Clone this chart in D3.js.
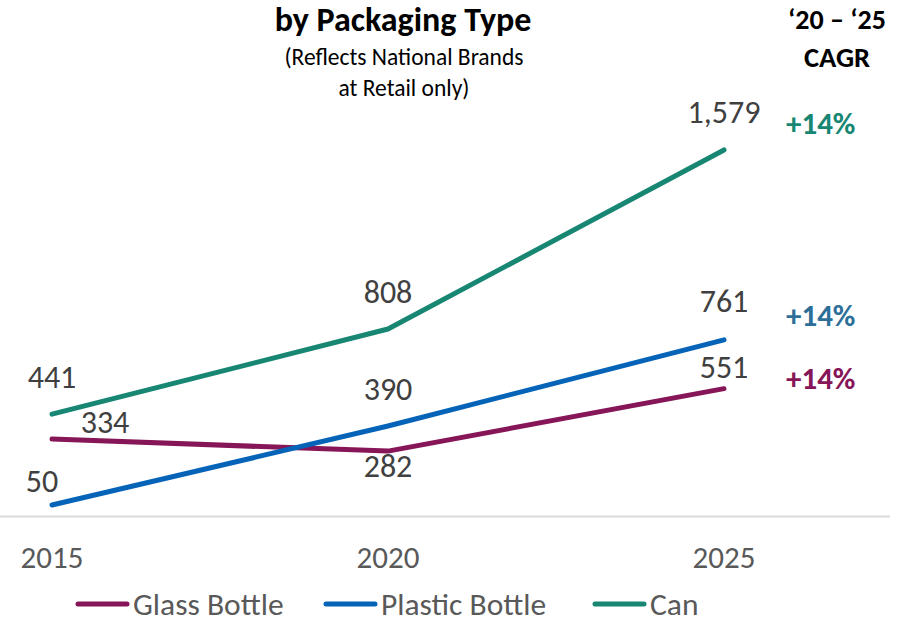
<!DOCTYPE html>
<html>
<head>
<meta charset="utf-8">
<script src="https://cdn.jsdelivr.net/npm/d3@7"></script>
<style>
  body { margin: 0; background: #fff; }
  text { font-family: Carlito, 'Liberation Sans Narrow', 'Open Sans', sans-serif; }
</style>
</head>
<body>
<script>
// données
const YEARS = ['2015', '2020', '2025']
const GLASS = [334, 282, 551]
const PLASTIC = [50, 390, 761]
const CAN = [441, 808, 1579]
const SERIES_NAMES = ['Glass Bottle', 'Plastic Bottle', 'Can']
const CAGR = ['+14%', '+14%', '+14%']

const WIDTH = 902
const HEIGHT = 619

const COLORS = ['#861657', '#0563b8', '#178673']
const CAGR_COLORS = ['#861657', '#2e6f9a', '#178673']

const series = [GLASS, PLASTIC, CAN].map((v, i) => ({ name: SERIES_NAMES[i], values: v, color: COLORS[i] }))

const svg = d3.select('body').append('svg')
  .attr('width', WIDTH)
  .attr('height', HEIGHT)

const x = d3.scalePoint().domain(YEARS).range([52, 724])
const y = d3.scaleLinear().domain([0, 2000]).range([516.6, 52.2])

// ligne de base
svg.append('line')
  .attr('x1', 0).attr('x2', 890)
  .attr('y1', y(0)).attr('y2', y(0))
  .attr('stroke', '#d9d9d9').attr('stroke-width', 2)

// titres
svg.append('text').attr('x', 403).attr('y', 31)
  .attr('text-anchor', 'middle').attr('font-size', 34).attr('font-weight', 'bold')
  .attr('fill', '#000').text('by Packaging Type')
svg.append('text').attr('x', 404).attr('y', 65)
  .attr('text-anchor', 'middle').attr('font-size', 23.5).attr('fill', '#000')
  .text('(Reflects National Brands')
svg.append('text').attr('x', 404).attr('y', 96)
  .attr('text-anchor', 'middle').attr('font-size', 23.5).attr('fill', '#000')
  .text('at Retail only)')
svg.append('text').attr('x', 837).attr('y', 29)
  .attr('text-anchor', 'middle').attr('font-size', 28).attr('font-weight', 'bold')
  .text('\u201820 \u2013 \u201825')
svg.append('text').attr('x', 837).attr('y', 67)
  .attr('text-anchor', 'middle').attr('font-size', 28.5).attr('font-weight', 'bold')
  .text('CAGR')

// lignes
const line = d3.line().x((d, i) => x(YEARS[i])).y(d => y(d))
svg.selectAll('path.serie')
  .data(series)
  .enter()
  .append('path')
  .attr('class', 'serie')
  .attr('d', d => line(d.values))
  .attr('fill', 'none')
  .attr('stroke', d => d.color)
  .attr('stroke-width', 5)
  .attr('stroke-linecap', 'round')
  .attr('stroke-linejoin', 'round')

// étiquettes de valeurs (dx, dy par rapport au point)
const OFFSETS = [
  [[53, -6], [0, 26], [0, -11]],
  [[-10, -13], [0, -26], [0, -28]],
  [[0, -26], [0, -26], [0, -27]]
]
series.forEach((s, si) => {
  s.values.forEach((v, i) => {
    svg.append('text')
      .attr('x', x(YEARS[i]) + OFFSETS[si][i][0])
      .attr('y', y(v) + OFFSETS[si][i][1])
      .attr('text-anchor', 'middle')
      .attr('font-size', 32)
      .attr('fill', '#404040')
      .text(d3.format(',')(v))
  })
})

// CAGR
series.forEach((s, si) => {
  const last = s.values[s.values.length - 1]
  const off = [0, -14, -16][si]
  svg.append('text')
    .attr('x', 786)
    .attr('y', y(last) + off)
    .attr('font-size', 31)
    .attr('font-weight', 'bold')
    .attr('fill', CAGR_COLORS[si])
    .text(CAGR[si])
})

// axe x
svg.selectAll('text.year')
  .data(YEARS)
  .enter()
  .append('text')
  .attr('class', 'year')
  .attr('x', d => x(d))
  .attr('y', 568)
  .attr('text-anchor', 'middle')
  .attr('font-size', 31)
  .attr('fill', '#595959')
  .text(d => d)

// légende
const LEGEND_X = [75, 323, 592]
series.forEach((s, i) => {
  const g = svg.append('g').attr('transform', `translate(${LEGEND_X[i]},604)`)
  g.append('line').attr('x1', 3).attr('x2', 52).attr('y1', 0).attr('y2', 0)
    .attr('stroke', s.color).attr('stroke-width', 5).attr('stroke-linecap', 'round')
  g.append('text').attr('x', 58).attr('y', 11)
    .attr('font-size', 31.5).attr('fill', '#595959').text(s.name)
})
</script>
</body>
</html>
